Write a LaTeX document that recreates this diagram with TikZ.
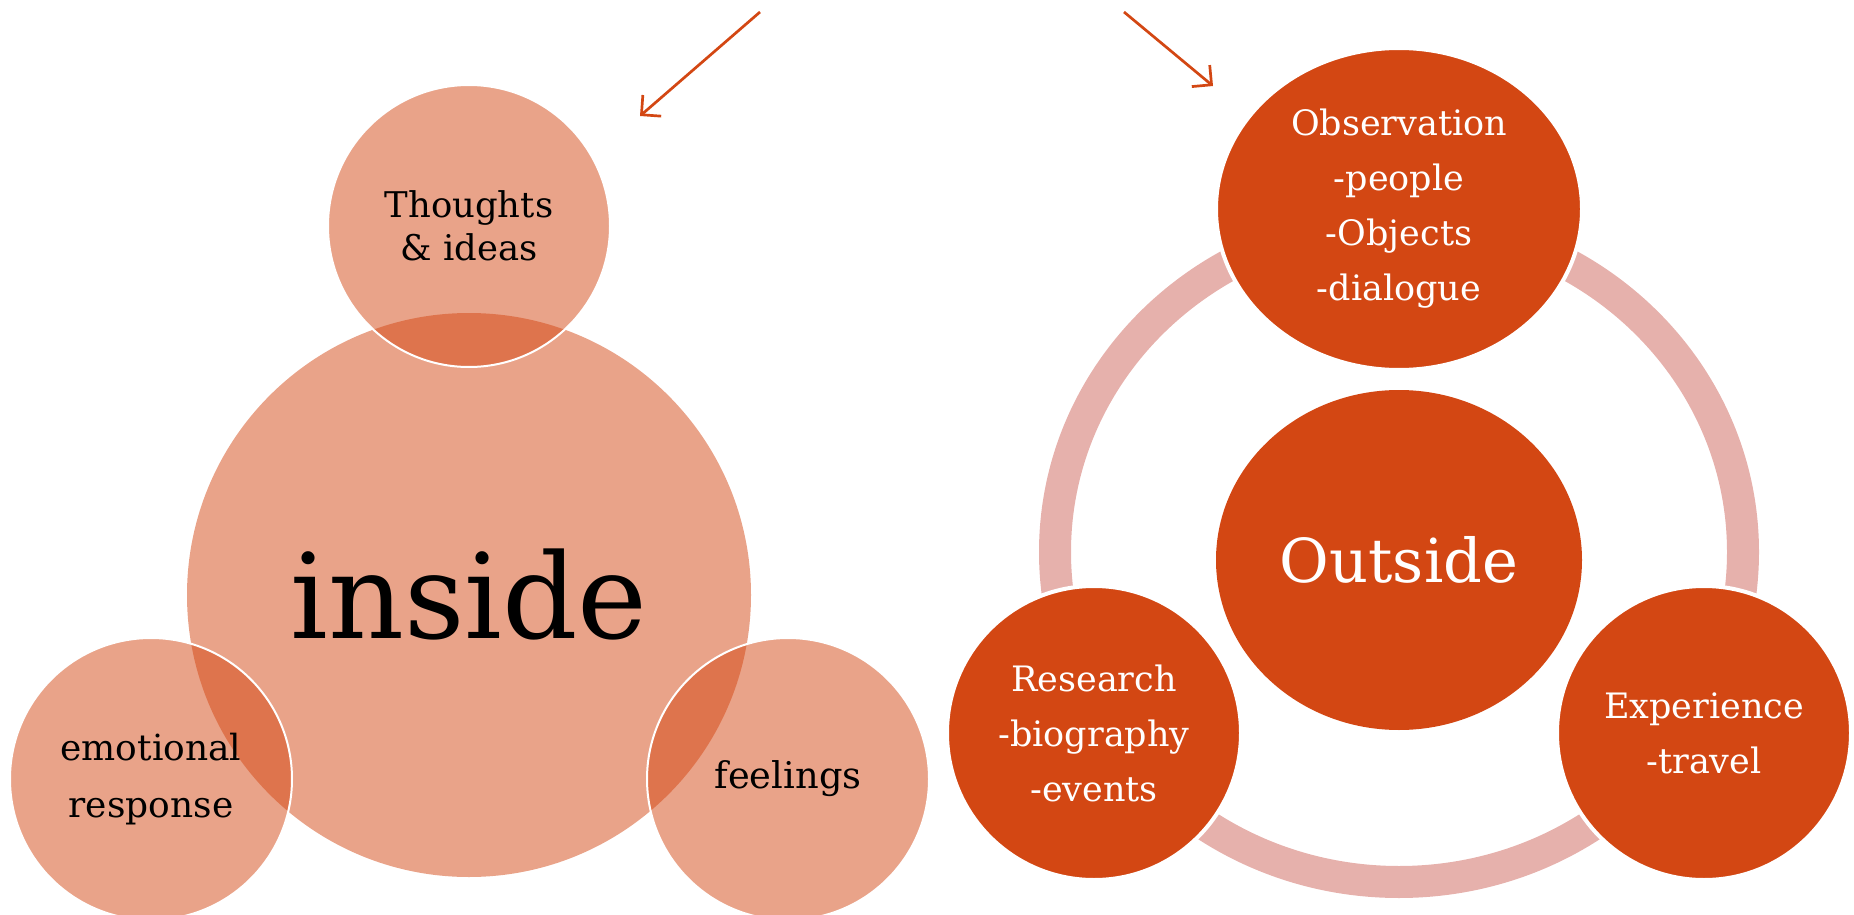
\documentclass[tikz,border=0pt]{standalone}
\usepackage{fontspec}
\setmainfont{DejaVu Serif}
\usetikzlibrary{shapes.geometric,arrows.meta}
\definecolor{rust}{RGB}{211,71,19}
\definecolor{blush}{RGB}{230,177,172}
\begin{document}
\begin{tikzpicture}[x=0.5pt, y=-0.5pt,
  bubble/.style={circle, inner sep=0pt, fill=rust, fill opacity=0.5, text opacity=1, align=center},
  rim/.style={draw=white, line width=1pt},
  spot/.style={ellipse, inner sep=0pt, fill=rust, text=white, align=center,
    font=\fontsize{17.5}{27.5}\selectfont},
  ring/.style={draw=blush, line width=16pt},
  pointer/.style={draw=rust, line width=1.35pt, -{Straight Barb[length=7pt,width=14pt]}}]
\useasboundingbox (0,0) rectangle (1854,915);
%
% the two pointers
\coordinate (lt) at (760,12);
\coordinate (lh) at (640,116);
\coordinate (rt) at (1124,12);
\coordinate (rh) at (1213,86);
\draw[pointer] (lt) -- (lh);
\draw[pointer] (rt) -- (rh);
%
% inside
\node[bubble, minimum size=282pt, font=\fontsize{59}{60}\selectfont] (inside) at (469,595) {inside};
\node[bubble, rim, minimum size=141pt, font=\fontsize{17.7}{21.5}\selectfont] (thoughts) at (469,226) {Thoughts\\\& ideas};
\node[bubble, rim, minimum size=141pt, font=\fontsize{18}{28.5}\selectfont] (emotion) at (151,779) {emotional\\response};
\node[bubble, rim, minimum size=141pt, font=\fontsize{18.4}{20}\selectfont] (feelings) at (788,779) {feelings};
%
% outside
\coordinate (hub) at (1399,552);
\draw[ring] (hub) ellipse[x radius=344, y radius=330];
\node[spot, minimum width=183pt, minimum height=170pt, font=\fontsize{30.3}{32}\selectfont] (outside) at (1399,560) {Outside};
\node[spot, rim, line width=2pt, minimum width=183pt, minimum height=161pt] (observe) at (1399,209) {Observation\\-people\\-Objects\\-dialogue};
\node[spot, rim, line width=2pt, minimum width=147pt, minimum height=147pt] (research) at (1094,733) {Research\\-biography\\-events};
\node[spot, rim, line width=2pt, minimum width=147pt, minimum height=147pt] (travel) at (1704,733) {Experience\\-travel};
%
\end{tikzpicture}
\end{document}
